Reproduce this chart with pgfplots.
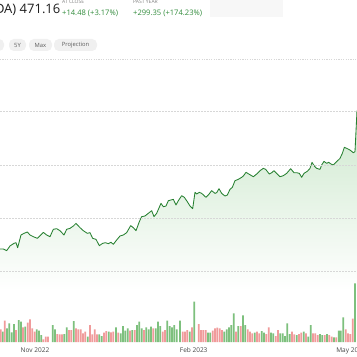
\documentclass[border=0pt]{standalone}
\usepackage{fontspec}
\setmainfont{Open Sans}
\usepackage{pgfplots}
\pgfplotsset{compat=1.18}
\definecolor{pline}{RGB}{38,128,48}
\definecolor{fillg}{RGB}{205,232,205}
\definecolor{vgreen}{RGB}{125,192,125}
\definecolor{vred}{RGB}{240,155,155}
\definecolor{gridc}{RGB}{215,215,215}
\definecolor{hdr}{RGB}{30,30,30}
\definecolor{upg}{RGB}{50,140,60}
\definecolor{smallg}{RGB}{130,130,130}
\definecolor{pill}{RGB}{240,240,240}
\definecolor{pilltxt}{RGB}{90,90,90}
\definecolor{boxgray}{RGB}{247,247,247}
\definecolor{lbl}{RGB}{70,70,70}
\begin{document}
\begin{tikzpicture}
\useasboundingbox (0pt,0pt) rectangle (357pt,357pt);
\clip (0pt,0pt) rectangle (357pt,357pt);
\fill[white] (0pt,0pt) rectangle (357pt,357pt);
% header
\fill[boxgray] (210pt,340pt) rectangle (283pt,357pt);
\node[anchor=base east, inner sep=0pt, text=hdr, font=\fontsize{13}{13}\selectfont] at (16.5pt,343pt) {(NVDA)};
\node[anchor=base west, inner sep=0pt, text=hdr, font=\fontsize{13}{13}\selectfont] at (19.5pt,343pt) {471.16};
\node[anchor=base west, inner sep=0pt, text=smallg, font=\fontsize{5}{5}\selectfont] at (62pt,353pt) {AT CLOSE};
\node[anchor=base west, inner sep=0pt, text=upg, font=\fontsize{7.6}{8}\selectfont] at (62pt,341pt) {+14.48 (+3.17\%)};
\node[anchor=base west, inner sep=0pt, text=smallg, font=\fontsize{5}{5}\selectfont] at (133pt,353pt) {PAST YEAR};
\node[anchor=base west, inner sep=0pt, text=upg, font=\fontsize{7.6}{8}\selectfont] at (133pt,341pt) {+299.35 (+174.23\%)};
% pills
\fill[pill, rounded corners=5pt] (-10pt,306pt) rectangle (4pt,318pt);
\fill[pill, rounded corners=5pt] (9pt,306pt) rectangle (26pt,318pt);
\fill[pill, rounded corners=5pt] (29pt,306pt) rectangle (52pt,318pt);
\fill[pill, rounded corners=5pt] (54pt,306pt) rectangle (97pt,318pt);
\node[text=pilltxt, font=\fontsize{5.8}{6}\selectfont, inner sep=0pt] at (17.5pt,312pt) {5Y};
\node[text=pilltxt, font=\fontsize{5.8}{6}\selectfont, inner sep=0pt] at (40.5pt,312pt) {Max};
\node[text=pilltxt, font=\fontsize{5.8}{6}\selectfont, inner sep=0pt] at (75.5pt,312pt) {Projection};
\draw[gridc, dash pattern=on 1.2pt off 1.2pt, line width=0.5pt] (0pt,298pt) -- (357pt,298pt);
% price axis
\begin{axis}[at={(0pt,67pt)}, anchor=south west, scale only axis,
  width=357pt, height=210pt, xmin=0, xmax=1071, ymin=64.2, ymax=459.7,
  axis line style={draw=none}, xtick=\empty, ytick={100,200,300,400},
  yticklabels={}, major tick length=0pt, ymajorgrids, axis on top,
  grid style={gridc, dash pattern=on 1.5pt off 1.5pt, line width=0.5pt}]
\pgfplotstableread{
x y
0 141.4
10 141.4
20 138.3
30 147.1
42 152.1
48 153.3
53 143.9
63 167.8
72 170.9
82 173.4
90 167.8
100 164.6
112 161.5
120 166.5
130 172.8
140 167.8
150 164.6
160 178.5
170 179.7
180 175.9
192 167.8
200 178.5
210 180.3
220 184.7
228 189.7
240 181.6
250 175.9
262 170.9
270 172.2
278 161.5
288 159.6
298 147.7
308 152.1
316 153.3
325 151.5
333 154.0
340 150.2
350 158.4
360 165.9
370 167.8
380 172.2
392 185.4
400 181.6
408 175.9
418 192.9
425 202.3
435 203.6
445 208.6
455 213.6
462 202.3
470 208.6
483 227.4
490 221.1
498 222.4
505 232.4
520 234.9
528 224.3
535 232.4
545 241.8
553 238.7
562 230.5
570 222.4
578 217.4
585 248.1
590 245.0
598 248.1
605 246.2
618 238.7
625 243.1
635 251.3
645 246.2
650 247.5
657 255.0
665 246.2
675 241.2
682 243.1
690 253.8
697 257.5
705 270.1
715 272.6
725 276.4
730 278.9
738 285.8
748 282.0
760 277.6
770 282.6
780 288.9
790 293.3
797 291.4
808 282.6
815 285.1
822 288.9
830 283.9
840 277.6
850 279.5
860 283.9
872 292.7
882 285.1
890 285.1
898 283.9
905 276.4
912 283.9
922 287.7
930 293.3
936 304.6
943 297.7
950 293.3
960 291.4
965 299.6
972 306.5
980 302.7
986 304.6
993 301.5
1000 299.6
1010 305.9
1020 312.1
1027 321.5
1033 332.8
1040 331.0
1050 327.8
1060 322.8
1065 324.7
1071 401.9
}\price
\addplot[draw=none, top color=fillg, bottom color=white] table {\price} \closedcycle;
\addplot[pline, line width=0.85pt, line join=round] table {\price};
\end{axis}
% volume axis
\begin{axis}[at={(0pt,15pt)}, anchor=south west, scale only axis,
  width=357pt, height=60pt, xmin=0, xmax=1071, ymin=0, ymax=180,
  axis line style={draw=none}, ytick=\empty,
  xtick={105,581,1053}, xticklabels={Nov 2022,Feb 2023,May 2023},
  major tick length=0pt,
  xticklabel style={font=\fontsize{6.5}{7}\selectfont, text=lbl, yshift=-2.5pt}]
\addplot[ybar, bar width=1.7pt, bar shift=0pt, fill=vgreen, draw=none] coordinates {
(8,31) (21,41) (28,56) (35,29) (42,54) (56,66) (63,61) (76,46) (110,38) (117,34) (124,21)
(158,51) (165,38) (193,24) (200,44) (221,63) (263,16) (298,23) (305,18) (326,31) (348,44)
(362,26) (369,48) (376,34) (383,41) (397,36) (411,51) (418,61) (425,41) (439,44) (446,38)
(453,46) (467,41) (474,61) (481,48) (502,64) (509,48) (516,44) (523,51) (530,38) (540,64)
(569,31) (583,121) (624,28) (631,28) (673,31) (680,38) (687,44) (694,51) (701,86) (715,48)
(729,80) (736,51) (764,28) (785,33) (792,28) (813,28) (820,26) (841,26) (848,26) (855,18)
(862,56) (869,24) (890,21) (911,31) (925,16) (932,51) (960,24) (967,21) (981,24) (1002,14)
(1016,34) (1022,34) (1030,74) (1065,176)
};
\addplot[ybar, bar width=1.7pt, bar shift=0pt, fill=vred, draw=none] coordinates {
(2,38) (14,64) (48,36) (69,44) (83,58) (90,68) (97,41) (104,31) (130,8) (137,16) (144,16)
(172,24) (179,23) (186,23) (207,36) (214,36) (228,41) (235,38) (242,38) (249,26) (256,31)
(270,51) (277,23) (284,38) (291,23) (312,28) (319,33) (333,29) (340,31) (355,28) (390,34)
(404,36) (432,36) (460,41) (488,31) (495,36) (548,31) (555,31) (562,36) (576,44) (596,54)
(603,36) (610,36) (617,36) (638,34) (645,41) (652,43) (659,41) (666,36) (708,31) (722,48)
(743,38) (750,31) (757,26) (771,31) (778,26) (799,24) (806,44) (827,18) (834,36) (876,31)
(883,23) (897,24) (904,28) (918,26) (939,26) (946,26) (953,21) (974,21) (988,21) (995,16)
(1009,14) (1037,38) (1044,26) (1051,24) (1058,70)
};
\end{axis}
\end{tikzpicture}
\end{document}
